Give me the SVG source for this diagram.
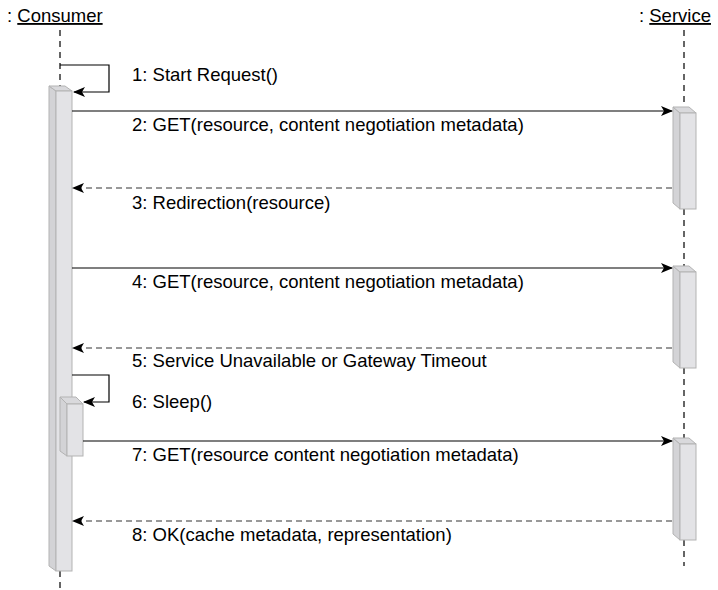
<svg xmlns="http://www.w3.org/2000/svg" width="718" height="590" viewBox="0 0 718 590">
<style>
text{font-family:"Liberation Sans",Arial,sans-serif;font-size:18.5px;fill:#000}
.life{stroke:#333;stroke-width:1.5;stroke-dasharray:6,5;fill:none}
.msg{stroke:#000;stroke-width:1.2;fill:none}
.ret{stroke:#333;stroke-width:1.2;stroke-dasharray:6,4;fill:none}
.front{fill:#e3e3e6;stroke:#b3b3b3;stroke-width:1}
.side{fill:#d3d3d6;stroke:#b3b3b3;stroke-width:1}
.top{fill:#d9d9dc;stroke:#b3b3b3;stroke-width:1}
</style>
<defs>
<marker id="ah" viewBox="0 0 12 10" refX="11" refY="5" markerWidth="12" markerHeight="10" markerUnits="userSpaceOnUse" orient="auto">
<path d="M0,0 L12,5 L0,10 L3,5 z" fill="#000"/>
</marker>
</defs>
<g id="consumer">
<text x="7" y="22">: <tspan text-decoration="underline">Consumer</tspan></text>
<line class="life" x1="60" y1="30" x2="60" y2="86"/>
<line class="life" x1="60" y1="571" x2="60" y2="590"/>
<polygon class="side" points="49,86 56,91 56,571 49,566"/>
<polygon class="top" points="49,86 65,86 72,91 56,91"/>
<rect class="front" x="56" y="91" width="16" height="480"/>
</g>
<g id="sleep">
<polygon class="side" points="60,397 67,404 67,456 60,451"/>
<polygon class="top" points="60,397 76,397 83,404 67,404"/>
<rect class="front" x="67" y="404" width="16" height="52"/>
</g>
<g id="service">
<text x="639" y="22">: <tspan text-decoration="underline">Service</tspan></text>
<line class="life" x1="684" y1="30" x2="684" y2="107"/>
<line class="life" x1="684" y1="209" x2="684" y2="266"/>
<line class="life" x1="684" y1="368" x2="684" y2="438"/>
<line class="life" x1="684" y1="540" x2="684" y2="566"/>
</g>
<g id="service-act1">
<polygon class="side" points="673,107 680,113 680,209 673,203"/>
<polygon class="top" points="673,107 689,107 696,113 680,113"/>
<rect class="front" x="680" y="113" width="16" height="96"/>
</g>
<g id="service-act2">
<polygon class="side" points="673,266 680,272 680,368 673,362"/>
<polygon class="top" points="673,266 689,266 696,272 680,272"/>
<rect class="front" x="680" y="272" width="16" height="96"/>
</g>
<g id="service-act3">
<polygon class="side" points="673,438 680,444 680,540 673,534"/>
<polygon class="top" points="673,438 689,438 696,444 680,444"/>
<rect class="front" x="680" y="444" width="16" height="96"/>
</g>
<g id="connectors">
<polyline class="msg" points="60,65 109,65 109,92 74,92" marker-end="url(#ah)"/>
<line class="msg" x1="72" y1="111" x2="672" y2="111" marker-end="url(#ah)"/>
<line class="ret" x1="672" y1="188" x2="73" y2="188" marker-end="url(#ah)"/>
<line class="msg" x1="72" y1="268" x2="672" y2="268" marker-end="url(#ah)"/>
<line class="ret" x1="672" y1="348" x2="73" y2="348" marker-end="url(#ah)"/>
<polyline class="msg" points="72,375 109,375 109,402 84,402" marker-end="url(#ah)"/>
<line class="msg" x1="83" y1="441" x2="672" y2="441" marker-end="url(#ah)"/>
<line class="ret" x1="672" y1="521" x2="73" y2="521" marker-end="url(#ah)"/>
</g>
<g id="labels">
<text x="132" y="81">1: Start Request()</text>
<text x="132" y="131">2: GET(resource, content negotiation metadata)</text>
<text x="132" y="209">3: Redirection(resource)</text>
<text x="132" y="288">4: GET(resource, content negotiation metadata)</text>
<text x="132" y="367">5: Service Unavailable or Gateway Timeout</text>
<text x="132" y="408">6: Sleep()</text>
<text x="132" y="461">7: GET(resource content negotiation metadata)</text>
<text x="132" y="541">8: OK(cache metadata, representation)</text>
</g>
</svg>
